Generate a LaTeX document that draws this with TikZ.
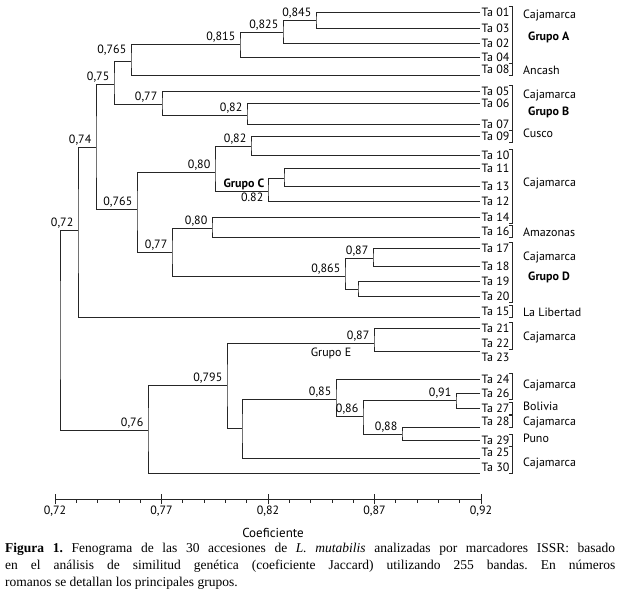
\documentclass[tikz,border=0pt]{standalone}
\usepackage{fontspec}
\setmainfont{PT Sans}
\newfontfamily\capfont{Liberation Serif}
\tikzstyle{leaf}=[anchor=west,inner sep=1.5pt,font=\fontsize{12}{12}\selectfont]
\tikzstyle{val}=[anchor=south east,inner sep=1.5pt,xshift=-3pt,font=\fontsize{12}{12}\selectfont]
\tikzstyle{region}=[anchor=west,inner sep=0pt,font=\fontsize{12}{12}\selectfont]
\tikzstyle{grp}=[anchor=west,inner sep=0pt,font=\fontsize{12}{12}\selectfont\bfseries]
\tikzstyle{branch}=[line width=0.9pt,black!85]
\tikzstyle{bracket}=[line width=0.7pt,black!85]
\newcommand{\brk}[2]{\draw[bracket] ([xshift=-2.5pt]#1.north east) -| ([xshift=1pt]#2.south east) -- ([xshift=-2.5pt]#2.south east);}

\begin{document}
\begin{tikzpicture}[x=1pt,y=-1pt]
\useasboundingbox (0,0) rectangle (619,600);

\node[leaf] (t01) at (480,12) {Ta 01};
\node[leaf] (t03) at (480,28) {Ta 03};
\node[leaf] (t02) at (480,43) {Ta 02};
\node[leaf] (t04) at (480,57) {Ta 04};
\node[leaf,anchor=south west] (t08) at (480,75) {Ta 08};
\node[leaf] (t05) at (480,91) {Ta 05};
\node[leaf] (t06) at (480,103) {Ta 06};
\node[leaf] (t07) at (480,124) {Ta 07};
\node[leaf] (t09) at (480,136) {Ta 09};
\node[leaf] (t10) at (480,155) {Ta 10};
\node[leaf] (t11) at (480,168) {Ta 11};
\node[leaf] (t13) at (480,186) {Ta 13};
\node[leaf] (t12) at (480,201) {Ta 12};
\node[leaf] (t14) at (480,217) {Ta 14};
\node[leaf,anchor=south west] (t16) at (480,237) {Ta 16};
\node[leaf] (t17) at (480,248) {Ta 17};
\node[leaf] (t18) at (480,266) {Ta 18};
\node[leaf] (t19) at (480,281) {Ta 19};
\node[leaf] (t20) at (480,296) {Ta 20};
\node[leaf,anchor=south west] (t15) at (480,317) {Ta 15};
\node[leaf] (t21) at (480,328) {Ta 21};
\node[leaf] (t22) at (480,343) {Ta 22};
\node[leaf,anchor=north west] (t23) at (480,351) {Ta 23};
\node[leaf] (t24) at (480,379) {Ta 24};
\node[leaf] (t26) at (480,393) {Ta 26};
\node[leaf] (t27) at (480,408) {Ta 27};
\node[leaf,anchor=south west] (t28) at (480,427) {Ta 28};
\node[leaf] (t29) at (480,440) {Ta 29};
\node[leaf,anchor=south west] (t25) at (480,458) {Ta 25};
\node[leaf,anchor=south west] (t30) at (480,473) {Ta 30};

\coordinate (n845) at (316,20);
\coordinate (n825) at (283,32);
\coordinate (n815) at (240,44);
\coordinate (n765a) at (131,61);
\coordinate (n82b) at (247,115);
\coordinate (n77b) at (162,104);
\coordinate (n75) at (114,84);
\coordinate (n82c) at (251,146);
\coordinate (n11) at (284,178);
\coordinate (n82cc) at (268,191);
\coordinate (n80c) at (215,172);
\coordinate (n80d) at (212,228);
\coordinate (n87d) at (373,258);
\coordinate (n19) at (358,289);
\coordinate (n865) at (345,276);
\coordinate (n77d) at (172,252);
\coordinate (n765b) at (137,209);
\coordinate (n74) at (96,147);
\coordinate (n72) at (78,230);
\coordinate (n87e) at (374,343);
\coordinate (n91) at (456,400);
\coordinate (n88) at (402,434);
\coordinate (n86) at (363,416);
\coordinate (n85) at (336,399);
\coordinate (nx) at (242,428);
\coordinate (n795) at (227,385);
\coordinate (n76) at (148,430);
\coordinate (root) at (60,330);

\draw[branch] (t01.west) -| (n845) |- (t03.west);
\draw[branch] (n845) -| (n825) |- (t02.west);
\draw[branch] (n825) -| (n815) |- (t04.west);
\draw[branch] (n815) -| (n765a) |- (t08.south west);
\draw[branch] (t06.west) -| (n82b) |- (t07.west);
\draw[branch] (t05.west) -| (n77b) |- (n82b);
\draw[branch] (n765a) -| (n75) |- (n77b);
\draw[branch] (t09.west) -| (n82c) |- (t10.west);
\draw[branch] (t11.west) -| (n11) |- (t13.west);
\draw[branch] (n11) -| (n82cc) |- (t12.west);
\draw[branch] (n82c) -| (n80c) |- (n82cc);
\draw[branch] (t14.west) -| (n80d) |- (t16.south west);
\draw[branch] (t17.west) -| (n87d) |- (t18.west);
\draw[branch] (t19.west) -| (n19) |- (t20.west);
\draw[branch] (n87d) -| (n865) |- (n19);
\draw[branch] (n80d) -| (n77d) |- (n865);
\draw[branch] (n80c) -| (n765b) |- (n77d);
\draw[branch] (n75) -| (n74) |- (n765b);
\draw[branch] (n74) -| (n72) |- (t15.south west);
\draw[branch] (t21.west) -| (n87e) |- (t23.north west);
\draw[branch] (t26.west) -| (n91) |- (t27.west);
\draw[branch] (t28.south west) -| (n88) |- (t29.west);
\draw[branch] (n91) -| (n86) |- (n88);
\draw[branch] (t24.west) -| (n85) |- (n86);
\draw[branch] (n85) -| (nx) |- (t25.south west);
\draw[branch] (n87e) -| (n795) |- (nx);
\draw[branch] (n795) -| (n76) |- (t30.south west);
\draw[branch] (n72) -| (root) |- (n76);

\node[val] (v845) at (n845) {0,845};
\node[val] (v825) at (n825) {0,825};
\node[val] (v815) at (n815) {0,815};
\node[val,yshift=4pt] (v765a) at (n765a) {0,765};
\node[val] (v75) at (n75) {0,75};
\node[val] (v77b) at (n77b) {0,77};
\node[val] (v82b) at (n82b) {0,82};
\node[val] (v74) at (n74) {0,74};
\node[val] (v72) at (n72) {0,72};
\node[val] (v82c) at (n82c) {0,82};
\node[val] (v80c) at (n80c) {0,80};
\node[val,anchor=south east,inner sep=0.5pt,font=\fontsize{12}{12}\selectfont\bfseries] (grupoc) at (n82cc) {Grupo C};
\node[val,anchor=north east] (v82cc) at (n82cc) {0.82};
\node[val] (v765b) at (n765b) {0,765};
\node[val] (v80d) at (n80d) {0,80};
\node[val] (v77d) at (n77d) {0,77};
\node[val] (v865) at (n865) {0,865};
\node[val] (v87d) at (n87d) {0,87};
\node[val] (v87e) at (n87e) {0,87};
\node[val,anchor=north east,xshift=-18pt,yshift=-3pt] (grupoe) at (n87e) {Grupo E};
\node[val] (v795) at (n795) {0,795};
\node[val] (v76) at (n76) {0,76};
\node[val] (v85) at (n85) {0,85};
\node[val] (v86) at (n86) {0,86};
\node[val] (v91) at (n91) {0,91};
\node[val] (v88) at (n88) {0,88};

\brk{t01}{t04}
\brk{t08}{t08}
\brk{t05}{t07}
\brk{t09}{t09}
\brk{t10}{t14}
\brk{t16}{t16}
\brk{t17}{t20}
\brk{t15}{t15}
\brk{t21}{t22}
\brk{t24}{t26}
\brk{t27}{t27}
\brk{t28}{t28}
\brk{t29}{t29}
\brk{t25}{t30}

\node[region] (r01) at (523,15) {Cajamarca};
\node[grp] (ga) at (528,37) {Grupo A};
\node[region] (r02) at (523,70) {Ancash};
\node[region] (r03) at (523,95) {Cajamarca};
\node[grp] (gb) at (528,112) {Grupo B};
\node[region] (r04) at (523,133) {Cusco};
\node[region] (r05) at (523,183) {Cajamarca};
\node[region] (r06) at (523,232) {Amazonas};
\node[region] (r07) at (523,257) {Cajamarca};
\node[grp] (gd) at (528,277) {Grupo D};
\node[region] (r08) at (523,312) {La Libertad};
\node[region] (r09) at (523,337) {Cajamarca};
\node[region] (r10) at (523,385) {Cajamarca};
\node[region] (r11) at (523,406) {Bolivia};
\node[region] (r12) at (523,422) {Cajamarca};
\node[region] (r13) at (523,438) {Puno};
\node[region] (r14) at (523,463) {Cajamarca};

\coordinate (ax0) at (55,499);
\coordinate (ax1) at (481,499);
\draw[branch] (ax0) -- (ax1);
\foreach \i in {0,...,20} \draw[bracket] (55+\i*21.3,499) -- ++(0,4);
\foreach \v [count=\k from 0] in {72,77,82,87,92} {
  \draw[branch] (55+\k*106.5,494) -- ++(0,10);
  \node[region,anchor=center] (lab\v) at (55+\k*106.5,511) {0,\v};
}
\node[region,anchor=center,font=\fontsize{13}{13}\selectfont] (coef) at (273,533) {Coeficiente};

\node[anchor=north west,inner sep=0pt,text width=610pt,align=justify,font=\capfont\fontsize{13.5}{16.8}\selectfont\frenchspacing] (cap) at (5,543)
{{\bfseries Figura 1.} Fenograma de las 30 accesiones de \textit{L. mutabilis} analizadas por marcadores ISSR: basado\linebreak en el análisis de similitud genética (coeficiente Jaccard) utilizando 255 bandas. En números\linebreak romanos se detallan los principales grupos.};

\end{tikzpicture}
\end{document}
